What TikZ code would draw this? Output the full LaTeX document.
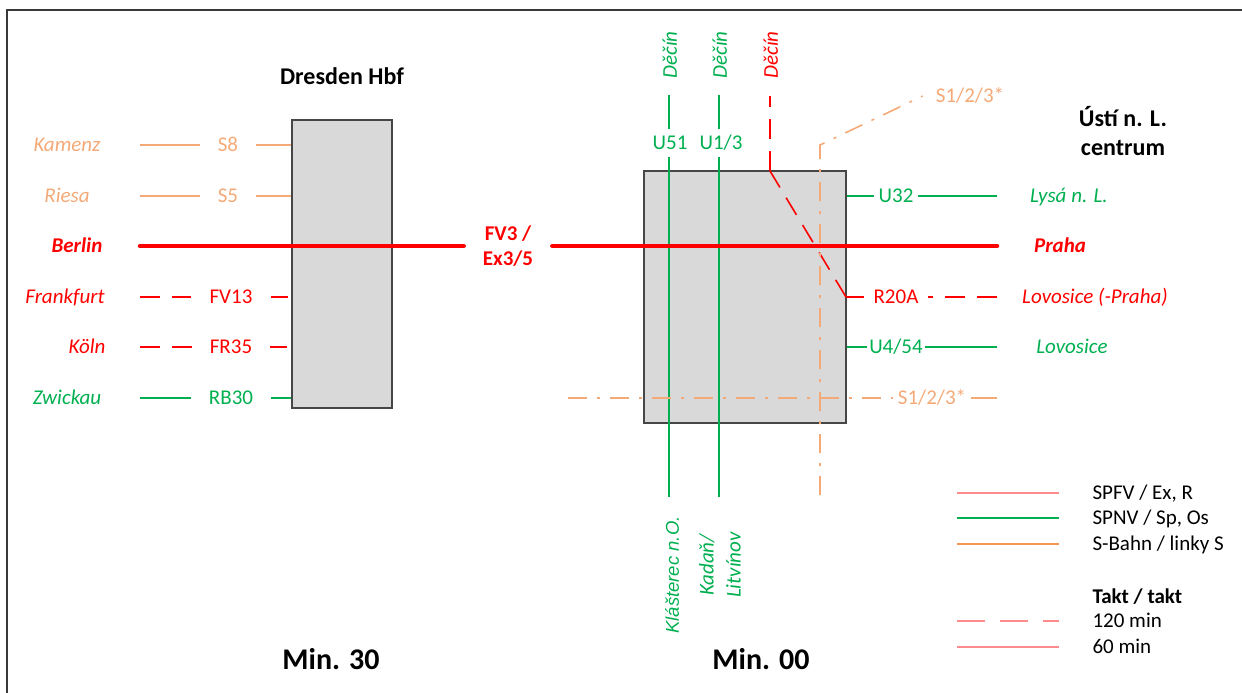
\documentclass[tikz,border=0pt]{standalone}
\usepackage{fontspec}
\setmainfont{Carlito}
\newfontfamily\arialfont{Liberation Sans}
\usepackage{xcolor}
\definecolor{spfvred}{RGB}{255,0,0}
\definecolor{spnvgreen}{RGB}{0,176,80}
\definecolor{sbahnorange}{RGB}{244,170,120}
\definecolor{keyred}{RGB}{255,140,140}
\definecolor{keyorange}{RGB}{247,150,80}
\definecolor{boxgrey}{RGB}{217,217,217}

\begin{document}
\begin{tikzpicture}[x=1pt, y=-1pt, font=\fontsize{21}{25}\selectfont,
	spfv/.style={draw=spfvred, line width=1.6pt},
	spnv/.style={draw=spnvgreen, line width=1.6pt},
	sbahn/.style={draw=sbahnorange, line width=1.6pt},
	mainline/.style={draw=spfvred, line width=4.5pt, line cap=round},
	takt120/.style={dash pattern=on 20pt off 12pt},
	sdashdot/.style={dash pattern=on 19pt off 10pt on 3pt off 10pt},
	station/.style={draw=gray!55!black, fill=boxgrey, line width=1.3pt, inner sep=0pt},
	plain/.style={text height=13.5pt, text depth=0pt},
	dest/.style={plain, font=\fontsize{21}{25}\selectfont\itshape},
	tag/.style={plain, inner xsep=18pt, inner ysep=0pt},
	vtag/.style={plain, inner xsep=0pt, inner ysep=7pt},
	title/.style={font=\fontsize{24}{29}\selectfont\bfseries, align=center},
	minute/.style={plain, font=\fontsize{30}{34}\selectfont\bfseries},
]
	\useasboundingbox (0,0) rectangle (1242,693);
	\draw[gray!45!black, line width=1.4pt] (7,10) rectangle (1262,712);

	% Dresden Hbf
	\node[title] (dresden) at (342,76) {Dresden Hbf};
	\node[station, minimum width=100pt, minimum height=288pt] (dbox) at (342,264) {};

	\node[dest, text=sbahnorange] (kamenz) at (67,145) {Kamenz};
	\coordinate (kamenzend) at (140,145);
	\node[tag, text=sbahnorange] (s8) at (228,145) {S8};
	\draw[sbahn] (kamenzend) -- (s8.west);
	\draw[sbahn] (s8.east) -- (s8.east -| dbox.west);

	\node[dest, text=sbahnorange] (riesa) at (67,196) {Riesa};
	\coordinate (riesaend) at (140,196);
	\node[tag, text=sbahnorange] (s5) at (228,196) {S5};
	\draw[sbahn] (riesaend) -- (s5.west);
	\draw[sbahn] (s5.east) -- (s5.east -| dbox.west);

	\node[dest, text=spfvred, font=\fontsize{21}{25}\selectfont\bfseries\itshape] (berlin) at (77,246) {Berlin};
	\coordinate (berlinend) at (140,246);

	\node[dest, text=spfvred] (frankfurt) at (65,297) {Frankfurt};
	\coordinate (frankfurtend) at (140,297);
	\node[tag, text=spfvred] (fv13) at (231,297) {FV13};
	\draw[spfv, takt120] (frankfurtend) -- (fv13.west);
	\draw[spfv, takt120] (fv13.east) -- ++(17,0);

	\node[dest, text=spfvred] (koeln) at (87,347) {Köln};
	\coordinate (koelnend) at (140,347);
	\node[tag, text=spfvred] (fr35) at (231,347) {FR35};
	\draw[spfv, takt120] (koelnend) -- (fr35.west);
	\draw[spfv, takt120] (fr35.east) -- ++(17,0);

	\node[dest, text=spnvgreen] (zwickau) at (67,398) {Zwickau};
	\coordinate (zwickauend) at (140,398);
	\node[tag, text=spnvgreen] (rb30) at (231,398) {RB30};
	\draw[spnv] (zwickauend) -- (rb30.west);
	\draw[spnv] (rb30.east) -- (rb30.east -| dbox.west);

	% Usti n. L. centrum
	\node[title] (usti) at (1123,131) {Ústí n. L.\\centrum};
	\node[station, minimum width=202pt, minimum height=252pt] (ubox) at (745,297) {};

	\node[dest, rotate=90, text=spnvgreen] (decin1) at (670,55) {Děčín};
	\node[dest, rotate=90, text=spnvgreen] (decin2) at (720,55) {Děčín};
	\node[dest, rotate=90, text=spfvred] (decin3) at (771,55) {Děčín};
	\coordinate (u51top) at (669,95);
	\coordinate (u13top) at (719,95);
	\coordinate (u51bot) at (669,497);
	\coordinate (u13bot) at (719,497);
	\node[vtag, text=spnvgreen] (u51) at (670,143) {U51};
	\node[vtag, text=spnvgreen] (u13) at (721,143) {U1/3};
	\draw[spnv] (u51top) -- (u51.north -| u51top);
	\draw[spnv] (u51.south -| u51bot) -- (u51bot);
	\draw[spnv] (u13top) -- (u13.north -| u13top);
	\draw[spnv] (u13.south -| u13bot) -- (u13bot);
	\node[dest, rotate=90, text=spnvgreen, font=\fontsize{18.5}{22}\selectfont\arialfont\itshape] (klasterec) at (672,575) {Klášterec n.O.};
	\node[dest, rotate=90, text=spnvgreen, align=center, text height=, text depth=, font=\fontsize{21}{27}\selectfont\itshape] (kadan) at (720,565) {Kadaň/\\Litvínov};

	\node[tag, inner xsep=4pt, text=spnvgreen] (u32) at (896,196) {U32};
	\node[dest, text=spnvgreen] (lysa) at (1069,196) {Lysá n. L.};
	\coordinate (lysaend) at (997,196);
	\draw[spnv] (u32.west -| ubox.east) -- (u32.west);
	\draw[spnv] (u32.east) -- (lysaend);

	\node[tag, inner xsep=9pt, text=spfvred] (r20a) at (896,297) {R20A};
	\node[dest, text=spfvred] (lovpraha) at (1095,297) {Lovosice (-Praha)};
	\coordinate (lovprahaend) at (997,297);
	\coordinate (decintop) at (770,96);
	\coordinate (decinbend) at (770,171);
	\coordinate (r20abend) at (846,297);
	\draw[spfv] (r20a.west) -- (r20abend);
	\draw[spfv, takt120] (r20abend) -- (decinbend);
	\draw[spfv, takt120] (decinbend) -- (decintop);
	\draw[spfv, takt120] (lovprahaend) -- (r20a.east);

	\node[tag, inner xsep=2pt, text=spnvgreen] (u454) at (896,347) {U4/54};
	\node[dest, text=spnvgreen] (lovosice) at (1072,347) {Lovosice};
	\coordinate (lovosiceend) at (997,347);
	\draw[spnv] (u454.west -| ubox.east) -- (u454.west);
	\draw[spnv] (u454.east) -- (lovosiceend);

	\node[tag, inner xsep=5pt, text=sbahnorange] (s123low) at (932,398) {S1/2/3*};
	\coordinate (s123west) at (568,398);
	\coordinate (s123east) at (997,398);
	\draw[sbahn, sdashdot] (s123west) -- (s123low.west);
	\draw[sbahn] (s123low.east) -- (s123east);

	\node[tag, inner xsep=13pt, text=sbahnorange] (s123up) at (970,96) {S1/2/3*};
	\coordinate (s123bot) at (820,495);
	\coordinate (s123corner) at (820,145);
	\draw[sbahn, sdashdot] (s123bot) -- (s123corner) -- (s123up.west);

	% Berlin - Praha
	\node[tag, inner xsep=19pt, text=spfvred, align=center, text height=, text depth=, font=\fontsize{21}{25}\selectfont\bfseries] (fv3) at (508,246) {FV3 /\\Ex3/5};
	\node[dest, text=spfvred, font=\fontsize{21}{25}\selectfont\bfseries\itshape] (praha) at (1060,246) {Praha};
	\coordinate (prahaend) at (997,246);
	\draw[mainline] (berlinend) -- (fv3.west);
	\draw[mainline] (fv3.east) -- (prahaend);

	% legend
	\coordinate (key1) at (957,493);
	\coordinate (key2) at (957,518);
	\coordinate (key3) at (957,544);
	\coordinate (key4) at (957,621);
	\coordinate (key5) at (957,647);
	\draw[draw=keyred, line width=1.6pt] (key1) -- ++(102,0);
	\draw[spnv, line width=1.2pt] (key2) -- ++(102,0);
	\draw[draw=keyorange, line width=1.6pt] (key3) -- ++(102,0);
	\draw[draw=keyred, line width=1.6pt, dash pattern=on 28pt off 15pt] (key4) -- ++(102,0);
	\draw[draw=keyred, line width=1.6pt] (key5) -- ++(102,0);
	\node[plain, anchor=west] (spfvkey) at (1089,493) {SPFV / Ex, R};
	\node[plain, anchor=west] (spnvkey) at (1089,518) {SPNV / Sp, Os};
	\node[plain, anchor=west] (sbahnkey) at (1089,544) {S-Bahn / linky S};
	\node[plain, anchor=west, font=\fontsize{21}{25}\selectfont\bfseries] (taktkey) at (1089,597) {Takt / takt};
	\node[plain, anchor=west] (key120) at (1089,621) {120 min};
	\node[plain, anchor=west] (key60) at (1089,647) {60 min};

	\node[minute] (min30) at (331,663) {Min. 30};
	\node[minute] (min00) at (761,663) {Min. 00};
\end{tikzpicture}
\end{document}
